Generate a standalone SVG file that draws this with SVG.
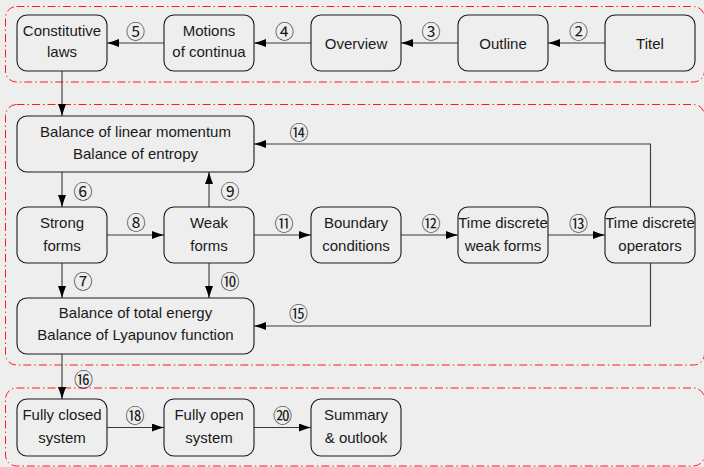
<svg xmlns="http://www.w3.org/2000/svg" width="704" height="467" viewBox="0 0 704 467">
<style>
.grp{fill:none;stroke:#ff1a1a;stroke-width:1;stroke-dasharray:8 3 1.5 3}
.box{fill:#eeeeee;stroke:#1a1a1a;stroke-width:1.1}
.t{font-family:"Liberation Sans",Arial,sans-serif;font-size:15px;fill:#1a1a1a;text-anchor:middle}
.n{font-family:"Noto Sans CJK SC","Noto Sans CJK JP",sans-serif;font-size:19px;fill:#1a1a1a;text-anchor:middle;dominant-baseline:central}
.c{fill:none;stroke:#3a3a3a;stroke-width:1.1;marker-end:url(#arr)}
</style>
<defs>
<marker id="arr" viewBox="-12 -4 12 8" refX="0" refY="0" markerWidth="12" markerHeight="8" markerUnits="userSpaceOnUse" orient="auto">
<path d="M0,0 C-4,-1 -8,-2.5 -12,-4 L-12,4 C-8,2.5 -4,1 0,0 Z" fill="#000"/>
</marker>
</defs>
<rect width="704" height="467" fill="#eeeeee"/>
<g id="groups">
<rect class="grp" x="5.5" y="6.5" width="699" height="75.5" rx="11"/>
<rect class="grp" x="5.5" y="104.5" width="699" height="260.5" rx="11"/>
<rect class="grp" x="5.5" y="388" width="699" height="78" rx="11"/>
</g>
<g id="connectors">
<line class="c" x1="605" y1="43" x2="548" y2="43"/>
<line class="c" x1="458" y1="43" x2="401" y2="43"/>
<line class="c" x1="311" y1="43" x2="254" y2="43"/>
<line class="c" x1="164" y1="43" x2="107" y2="43"/>
<line class="c" x1="62" y1="71" x2="62" y2="116"/>
<line class="c" x1="62" y1="172" x2="62" y2="207"/>
<line class="c" x1="209" y1="207" x2="209" y2="172"/>
<line class="c" x1="107" y1="235" x2="164" y2="235"/>
<line class="c" x1="254" y1="235" x2="311" y2="235"/>
<line class="c" x1="401" y1="235" x2="458" y2="235"/>
<line class="c" x1="548" y1="235" x2="605" y2="235"/>
<polyline class="c" points="650.5,207 650.5,144 254,144"/>
<line class="c" x1="62" y1="263" x2="62" y2="298"/>
<line class="c" x1="209" y1="263" x2="209" y2="298"/>
<polyline class="c" points="650.5,263 650.5,326 254,326"/>
<line class="c" x1="62" y1="354" x2="62" y2="399"/>
<line class="c" x1="107" y1="427.5" x2="164" y2="427.5"/>
<line class="c" x1="254" y1="427.5" x2="311" y2="427.5"/>
<text class="n" x="578.5" y="30.5">②</text>
<text class="n" x="431" y="30.5">③</text>
<text class="n" x="284.5" y="30.5">④</text>
<text class="n" x="135.5" y="30.5">⑤</text>
<text class="n" x="83" y="190.5">⑥</text>
<text class="n" x="83" y="280.5">⑦</text>
<text class="n" x="136" y="221.5">⑧</text>
<text class="n" x="230" y="190.5">⑨</text>
<text class="n" x="230" y="280.5">⑩</text>
<text class="n" x="284" y="222">⑪</text>
<text class="n" x="431" y="222.5">⑫</text>
<text class="n" x="578.5" y="222.5">⑬</text>
<text class="n" x="299" y="131.5">⑭</text>
<text class="n" x="298.5" y="312.5">⑮</text>
<text class="n" x="83.5" y="378">⑯</text>
<text class="n" x="135" y="414">⑱</text>
<text class="n" x="282.5" y="414">⑳</text>
</g>
<g id="n-constitutive"><rect class="box" x="17" y="15" width="90" height="56" rx="10"/><text class="t" x="62" y="36">Constitutive</text><text class="t" x="62" y="57">laws</text></g>
<g id="n-motions"><rect class="box" x="164" y="15" width="90" height="56" rx="10"/><text class="t" x="209" y="36">Motions</text><text class="t" x="209" y="57">of continua</text></g>
<g id="n-overview"><rect class="box" x="311" y="15" width="90" height="56" rx="10"/><text class="t" x="356" y="48.5">Overview</text></g>
<g id="n-outline"><rect class="box" x="458" y="15" width="90" height="56" rx="10"/><text class="t" x="503" y="48.5">Outline</text></g>
<g id="n-titel"><rect class="box" x="605" y="15" width="90" height="56" rx="10"/><text class="t" x="650" y="48.5">Titel</text></g>
<g id="n-balance-lin"><rect class="box" x="17" y="116" width="237" height="56" rx="10"/><text class="t" x="135.5" y="136.5">Balance of linear momentum</text><text class="t" x="135.5" y="158.5">Balance of entropy</text></g>
<g id="n-strong"><rect class="box" x="17" y="207" width="90" height="56" rx="10"/><text class="t" x="62" y="228">Strong</text><text class="t" x="62" y="250.5">forms</text></g>
<g id="n-weak"><rect class="box" x="164" y="207" width="90" height="56" rx="10"/><text class="t" x="209" y="228">Weak</text><text class="t" x="209" y="250.5">forms</text></g>
<g id="n-boundary"><rect class="box" x="311" y="207" width="90" height="56" rx="10"/><text class="t" x="356" y="228">Boundary</text><text class="t" x="356" y="250.5">conditions</text></g>
<g id="n-tdweak"><rect class="box" x="458" y="207" width="90" height="56" rx="10"/><text class="t" x="503" y="228">Time discrete</text><text class="t" x="503" y="250.5">weak forms</text></g>
<g id="n-tdops"><rect class="box" x="605" y="207" width="90" height="56" rx="10"/><text class="t" x="650" y="228">Time discrete</text><text class="t" x="650" y="250.5">operators</text></g>
<g id="n-balance-energy"><rect class="box" x="17" y="298" width="237" height="56" rx="10"/><text class="t" x="135.5" y="317.5">Balance of total energy</text><text class="t" x="135.5" y="340">Balance of Lyapunov function</text></g>
<g id="n-closed"><rect class="box" x="17" y="399" width="90" height="57" rx="10"/><text class="t" x="62" y="420">Fully closed</text><text class="t" x="62" y="443">system</text></g>
<g id="n-open"><rect class="box" x="164" y="399" width="90" height="57" rx="10"/><text class="t" x="209" y="420">Fully open</text><text class="t" x="209" y="443">system</text></g>
<g id="n-summary"><rect class="box" x="311" y="399" width="90" height="57" rx="10"/><text class="t" x="356" y="420">Summary</text><text class="t" x="356" y="443">&amp; outlook</text></g>
</svg>
